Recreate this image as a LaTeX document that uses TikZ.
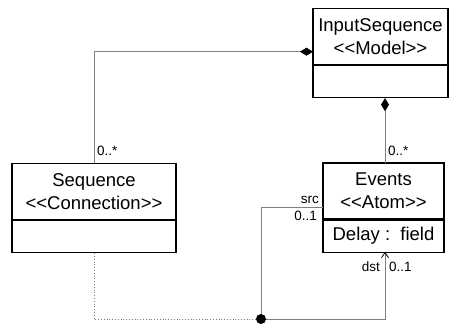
\documentclass[tikz,border=0pt]{standalone}
\usepackage{fontspec}
\setmainfont{Liberation Sans}
\usetikzlibrary{arrows.meta,positioning}

\newcommand{\stereo}[1]{{<}{<}#1{>}{>}}

\tikzset{
  classhead/.style={draw, line width=1.1pt, minimum width=#1, minimum height=56pt,
    inner sep=0pt, align=center, font=\fontsize{18.5}{23}\selectfont},
  classbody/.style={draw, line width=1.1pt, minimum width=#1, minimum height=32pt,
    inner sep=0pt, font=\fontsize{18.5}{23}\selectfont},
  assoc/.style={draw=gray, line width=0.8pt},
  mult/.style={font=\fontsize{13.5}{15}\selectfont, inner sep=1pt},
  owns/.style={-{Diamond[length=13pt,width=8pt,color=black]}}
}

\begin{document}
\begin{tikzpicture}[x=1pt, y=-1pt]
  \useasboundingbox (0,0) rectangle (449,324);
  % classes
  \node[classhead=135pt] (input) at (380.5,36.5) {InputSequence\\\stereo{Model}};
  \node[classbody=135pt, below=0pt of input] (inputattr) {};
  \node[classhead=164pt] (seq) at (94,191.5) {Sequence\\\stereo{Connection}};
  \node[classbody=164pt, below=0pt of seq] (seqattr) {};
  \node[classhead=121pt] (events) at (383.5,191) {Events\\\stereo{Atom}};
  \node[classbody=121pt, below=0pt of events] (eventsattr) {Delay :\ \ field};
  % corners and ends
  \coordinate (inleft) at (313,51.7);
  \coordinate (seqtop) at (94,163);
  \coordinate (evtop) at (385,163);
  \coordinate (srcend) at (323,207.3);
  \coordinate (dstend) at (385,252);
  % composition links
  \draw[assoc, owns] (seqtop) -- (seqtop |- inleft) -- (inleft);
  \draw[assoc, owns] (evtop) -- (evtop |- inputattr.south);
  \node[mult, anchor=south west] at (96,157) {0..*};
  \node[mult, anchor=south west] at (387,157) {0..*};
  % connection src/dst
  \coordinate (join) at (261,319);
  \draw[gray, line width=0.8pt, dotted] (seqattr.south) -- (seqattr.south |- join) -- (join);
  \draw[assoc] (join) -- (join |- srcend) -- (srcend);
  \draw[assoc, -{Straight Barb[length=5pt,width=7pt,color=black]}] (join) -- (join -| dstend) -- (dstend);
  \node[circle, fill, inner sep=0pt, minimum size=10pt] (dot) at (join) {};
  \node[mult, anchor=south east] at (320,205) {src};
  \node[mult, anchor=north east] at (318,210) {0..1};
  \node[mult, anchor=east] at (381,267) {dst};
  \node[mult, anchor=west] at (388,267) {0..1};
\end{tikzpicture}
\end{document}
